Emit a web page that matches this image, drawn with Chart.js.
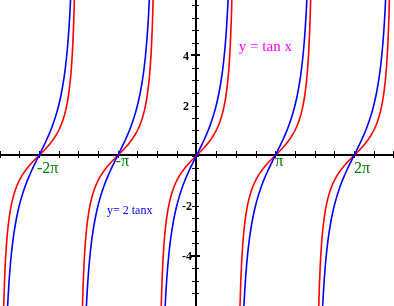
<!DOCTYPE html>
<html>
<head>
<meta charset="utf-8">
<script src="https://cdn.jsdelivr.net/npm/chart.js@4"></script>
<style>
  html, body { margin: 0; padding: 0; background: #fff; }
  #wrap { width: 394px; height: 306px; }
</style>
</head>
<body>
<div id="wrap"><canvas id="tanChart"></canvas></div>
<script>
// centre of each visible branch (-2π, -π, 0, π, 2π)
const branchCenters = [-6.2832, -3.1416, 0, 3.1416, 6.2832];

// x offset from the branch centre, with y = tan x and y = 2 tan x at that offset
const offsets = [-1.43, -1.4, -1.35, -1.3, -1.25, -1.2, -1.15, -1.1, -1.05, -1.0, -0.9, -0.8, -0.7, -0.6, -0.5, -0.4, -0.3, -0.2, -0.1,
    0, 0.1, 0.2, 0.3, 0.4, 0.5, 0.6, 0.7, 0.8, 0.9, 1.0, 1.05, 1.1, 1.15, 1.2, 1.25, 1.3, 1.35, 1.4, 1.43];
const tanValues = [-7.0555, -5.7979, -4.4552, -3.6021, -3.0096, -2.5722, -2.2345, -1.9648, -1.7433, -1.5574, -1.2602, -1.0296, -0.8423, -0.6841, -0.5463, -0.4228, -0.3093, -0.2027, -0.1003,
    0, 0.1003, 0.2027, 0.3093, 0.4228, 0.5463, 0.6841, 0.8423, 1.0296, 1.2602, 1.5574, 1.7433, 1.9648, 2.2345, 2.5722, 3.0096, 3.6021, 4.4552, 5.7979, 7.0555];
const twoTanValues = [-14.111, -11.5958, -8.9104, -7.2042, -6.0192, -5.1444, -4.4690, -3.9296, -3.4866, -3.1148, -2.5204, -2.0592, -1.6846, -1.3683, -1.0926, -0.8456, -0.6187, -0.4054, -0.2006,
    0, 0.2006, 0.4054, 0.6187, 0.8456, 1.0926, 1.3683, 1.6846, 2.0592, 2.5204, 3.1148, 3.4866, 3.9296, 4.4690, 5.1444, 6.0192, 7.2042, 8.9104, 11.5958, 14.111];

const xTickLabels = ['-2π', '-π', 'π', '2π'];
const xTickValues = [-6.2832, -3.1416, 3.1416, 6.2832];
const yTickLabels = ['4', '2', '-2', '-4'];
const yTickValues = [4, 2, -2, -4];

function branchData(center, values) {
    return offsets.map((o, i) => ({ x: center + o, y: values[i] }));
}

const datasets = [];
branchCenters.forEach(c => {
    datasets.push({
        data: branchData(c, twoTanValues),
        borderColor: '#0000ff',
        borderWidth: 1.6,
        showLine: true,
        pointRadius: 0,
        cubicInterpolationMode: 'monotone'
    });
    datasets.push({
        data: branchData(c, tanValues),
        borderColor: '#ff0000',
        borderWidth: 1.6,
        showLine: true,
        pointRadius: 0,
        cubicInterpolationMode: 'monotone'
    });
});

const axesPlugin = {
    id: 'axes',
    beforeDatasetsDraw(chart) {
        const { ctx, chartArea, scales: { x, y } } = chart;
        const x0 = Math.round(x.getPixelForValue(0));
        const y0 = Math.floor(y.getPixelForValue(0));
        ctx.save();
        ctx.strokeStyle = '#000';
        ctx.lineWidth = 2;
        ctx.beginPath();
        ctx.moveTo(chartArea.left, y0);
        ctx.lineTo(chartArea.right, y0);
        ctx.moveTo(x0, chartArea.top);
        ctx.lineTo(x0, chartArea.bottom);
        ctx.stroke();

        ctx.lineWidth = 1;
        ctx.beginPath();
        for (let k = -10; k <= 10; k++) {
            const px = Math.round(x.getPixelForValue(k * Math.PI / 4)) + 0.5;
            ctx.moveTo(px, y0 - 4);
            ctx.lineTo(px, y0 + 3);
        }
        for (let k = -12; k <= 12; k++) {
            const py = Math.round(y.getPixelForValue(k / 2)) + 0.5;
            ctx.moveTo(x0 - 4, py);
            ctx.lineTo(x0 + 3, py);
        }
        ctx.stroke();

        ctx.lineWidth = 2;
        ctx.beginPath();
        [4, -4].forEach(v => {
            const py = Math.round(y.getPixelForValue(v));
            ctx.moveTo(x0 - 5, py);
            ctx.lineTo(x0 + 4, py);
        });
        ctx.stroke();
        ctx.restore();
    },
    afterDatasetsDraw(chart) {
        const { ctx, scales: { x, y } } = chart;
        const x0 = Math.round(x.getPixelForValue(0));
        const y0 = Math.floor(y.getPixelForValue(0));
        ctx.save();

        ctx.fillStyle = '#008000';
        ctx.font = '16px "Liberation Serif"';
        ctx.textAlign = 'left';
        ctx.textBaseline = 'alphabetic';
        xTickLabels.forEach((lbl, i) => {
            const px = x.getPixelForValue(xTickValues[i]);
            ctx.fillText(lbl, px - (lbl[0] === '-' ? 2 : 0), y0 + (lbl.includes('2') ? 18 : 11));
        });

        ctx.fillStyle = '#000';
        ctx.font = 'bold 12px "Liberation Serif"';
        ctx.textAlign = 'right';
        yTickLabels.forEach((lbl, i) => {
            const v = yTickValues[i];
            ctx.fillText(lbl, x0 - (v > 0 ? 7 : 4), y.getPixelForValue(v) + 4);
        });

        ctx.textAlign = 'left';
        ctx.fillStyle = '#ff00ff';
        ctx.font = '15px "Liberation Serif"';
        ctx.fillText('y = tan x', x.getPixelForValue(1.69), y.getPixelForValue(4.18));

        ctx.fillStyle = '#0000ff';
        ctx.font = '12px "Liberation Serif"';
        ctx.fillText('y= 2 tanx', x.getPixelForValue(-3.57), y.getPixelForValue(-2.34));
        ctx.restore();
    }
};

new Chart(document.getElementById('tanChart'), {
    type: 'scatter',
    data: { datasets: datasets },
    options: {
        responsive: true,
        maintainAspectRatio: false,
        animation: false,
        layout: { padding: 0 },
        plugins: { legend: { display: false }, tooltip: { enabled: false } },
        scales: {
            x: { type: 'linear', min: -7.838, max: 7.878, display: false },
            y: { type: 'linear', min: -6.02, max: 6.22, display: false }
        }
    },
    plugins: [axesPlugin]
});
</script>
</body>
</html>
